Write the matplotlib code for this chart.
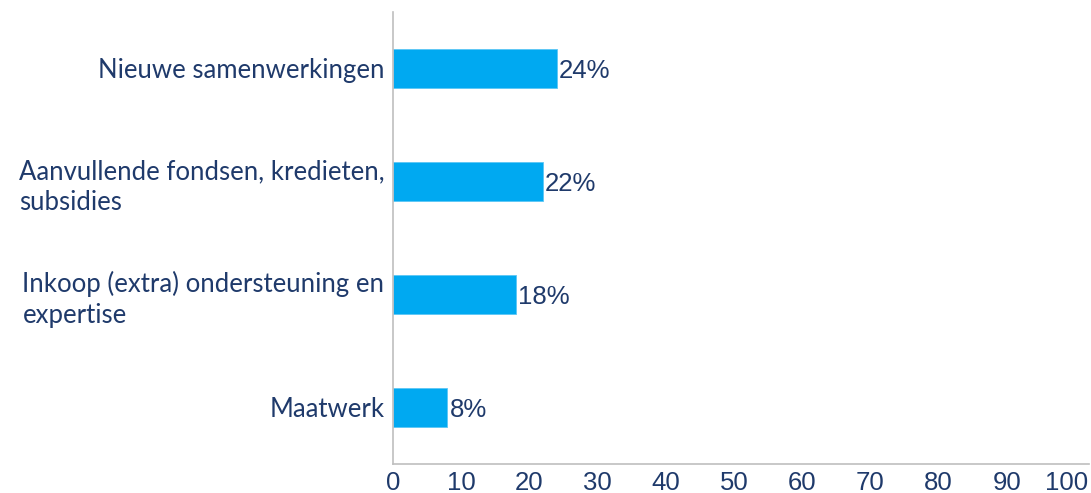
import matplotlib.pyplot as plt
import matplotlib.transforms as mtransforms
import numpy as np

categories = [
    "Nieuwe samenwerkingen",
    "Aanvullende fondsen, kredieten,\nsubsidies",
    "Inkoop (extra) ondersteuning en\nexpertise",
    "Maatwerk",
]
values = [24, 22, 18, 8]
xticks = list(range(0, 101, 10))

navy = "#1f3a6b"
blue = "#00a9f1"
num_font = ["Liberation Sans", "DejaVu Sans"]

plt.rcParams["font.family"] = ["Lato", "DejaVu Sans"]

fig = plt.figure(figsize=(10.91, 4.93), dpi=100)
ax = fig.add_axes([0.360, 0.059, 0.638, 0.917])

y = np.arange(len(categories))
ax.barh(y, values, height=0.35, color=blue, edgecolor="#5cc6f5", linewidth=0.6)

for yi, v in zip(y, values):
    ax.text(v + 0.3, yi + 0.02, f"{v}%", va="center", ha="left", fontsize=18.5,
            color=navy, family=num_font)

ax.set_ylim(len(categories) - 0.5, -0.5)
ax.set_xlim(0, 102)
ax.set_yticks(y)
ax.set_yticklabels(categories, fontsize=18.5, color=navy, multialignment="left",
                   linespacing=1.3)
ax.set_xticks(xticks)
ax.set_xticklabels([str(t) for t in xticks], fontsize=18.5, color=navy, family=num_font)
ax.tick_params(axis="both", length=0)
ax.tick_params(axis="y", pad=6)
ax.tick_params(axis="x", pad=5)

for s in ["top", "right"]:
    ax.spines[s].set_visible(False)
for s in ["left", "bottom"]:
    ax.spines[s].set_color("#bfbfbf")
    ax.spines[s].set_linewidth(1.2)

# keep the last tick label inside the figure
lbl = ax.get_xticklabels()[-1]
lbl.set_horizontalalignment("right")
lbl.set_transform(lbl.get_transform() + mtransforms.ScaledTranslation(0.13, 0, fig.dpi_scale_trans))

fig.savefig("out.png", dpi=100, facecolor="white")
